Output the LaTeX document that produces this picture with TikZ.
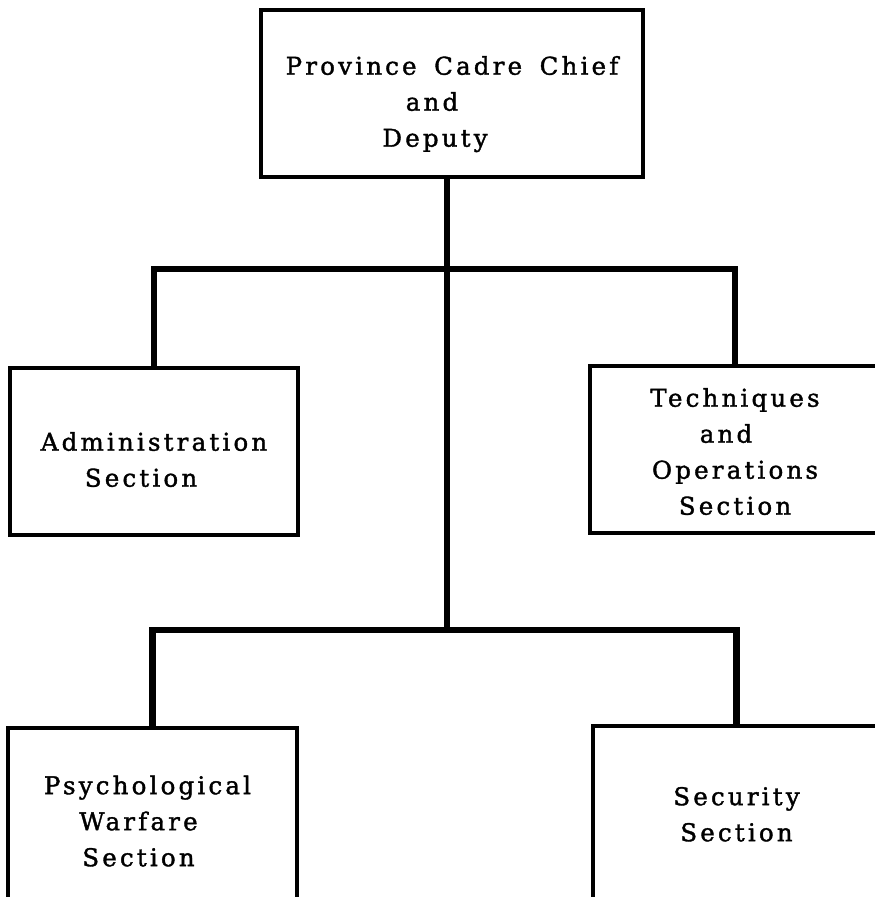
\documentclass[tikz,border=0pt]{standalone}
\usepackage{fontspec}
\setmainfont{DejaVu Serif}[LetterSpace=13,FakeBold=1.5,WordSpace=1.6]
\newcommand{\boxtext}[2]{\raisebox{-#1}[\height][\depth]{\begin{tabular}{@{}c@{}}#2\end{tabular}}}
\begin{document}
\begin{tikzpicture}[x=1pt,y=-1pt,
  box/.style={draw, line width=4pt, align=center, inner sep=0pt,
    font=\fontsize{24.5}{36}\selectfont},
  conn/.style={line width=6.5pt, line join=miter}]
\useasboundingbox (0,0) rectangle (875,897);
\node[box, minimum width=382pt, minimum height=167pt] (top) at (452,93.5)
  {\boxtext{10pt}{Province Cadre Chief\\and\hspace*{40pt}\\Deputy\hspace*{34pt}}};
\node[box, minimum width=288pt, minimum height=167pt] (admin) at (154,451.5)
  {\boxtext{10pt}{Administration\\Section\hspace*{26pt}}};
\node[box, minimum width=290pt, minimum height=167pt] (tech) at (735,449.5)
  {\boxtext{4pt}{Techniques\\and\hspace*{18pt}\\Operations\\Section}};
\node[box, minimum width=289pt, minimum height=172pt] (psych) at (152.5,814)
  {\boxtext{9pt}{Psychological\hspace*{10pt}\\Warfare\hspace*{28pt}\\Section\hspace*{28pt}}};
\node[box, minimum width=287pt, minimum height=174pt] (sec) at (736.5,813)
  {\boxtext{3pt}{Security\\Section}};
\coordinate (j1) at (447,269);
\coordinate (j2) at (447,630);
\draw[conn] (top.south -| j1) -- (j1) -- (j2);
\draw[conn] (admin.north) |- (j1) -| (tech.north);
\draw[conn] (psych.north) |- (j2) -| (sec.north);
\end{tikzpicture}
\end{document}
